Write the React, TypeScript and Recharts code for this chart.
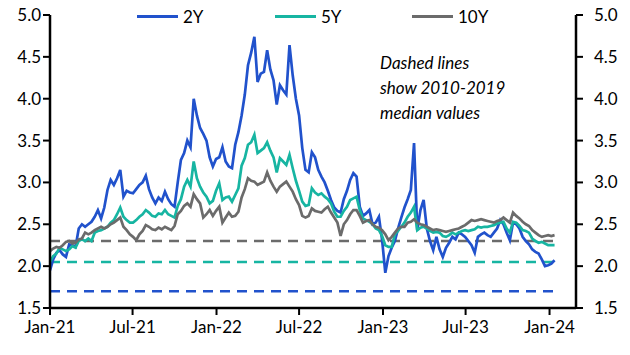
import { LineChart, Line, XAxis, YAxis, ReferenceLine } from 'recharts';

// weekly readings, starting first week of Jan 2021
const Y2 = [
  1.95, 2.08, 2.16, 2.19, 2.14, 2.11, 2.26, 2.25, 2.23, 2.45,
  2.5, 2.47, 2.5, 2.53, 2.59, 2.67, 2.57, 2.7, 2.91, 3.03,
  2.97, 3.05, 3.15, 2.83, 2.9, 2.88, 2.87, 2.92, 2.97, 3.0,
  3.08, 2.92, 2.82, 2.75, 2.82, 2.78, 2.89, 2.8, 2.74, 2.71,
  3.0, 3.27, 3.35, 3.5, 3.42, 4.0, 3.8, 3.65, 3.58, 3.5,
  3.3, 3.19, 3.28, 3.3, 3.42, 3.25, 3.19, 3.17, 3.45, 3.6,
  3.8, 4.05, 4.4, 4.55, 4.74, 4.2, 4.3, 4.32, 4.58, 4.35,
  4.22, 3.93, 4.16, 4.1, 4.05, 4.64, 4.28, 4.0, 3.8, 3.41,
  3.15, 3.12, 3.36, 3.3, 3.15, 3.07, 3.0, 2.9, 2.79, 2.7,
  2.66, 2.64, 2.8, 2.9, 3.03, 3.11, 3.07, 2.71, 2.6, 2.63,
  2.67, 2.5, 2.52, 2.59, 2.31, 1.92, 2.12, 2.22, 2.3, 2.45,
  2.58, 2.7, 2.8, 2.91, 3.47, 2.43, 2.67, 2.79, 2.45, 2.3,
  2.19, 2.35, 2.2, 2.11, 2.22, 2.28, 2.35, 2.32, 2.4, 2.38,
  2.35, 2.3, 2.25, 2.16, 2.35, 2.38, 2.4, 2.37, 2.35, 2.4,
  2.45, 2.55, 2.5, 2.4, 2.31, 2.52, 2.5, 2.45, 2.35, 2.3,
  2.26, 2.2, 2.17, 2.15, 2.08, 2.0, 2.01, 2.03, 2.07,
];

const Y5 = [
  2.05, 2.12, 2.15, 2.22, 2.2, 2.18, 2.2, 2.24, 2.22, 2.3,
  2.32, 2.3, 2.33, 2.3, 2.4, 2.42, 2.43, 2.45, 2.47, 2.52,
  2.55, 2.62, 2.7, 2.59, 2.55, 2.52, 2.52, 2.55, 2.59, 2.62,
  2.67, 2.64, 2.6, 2.59, 2.63, 2.62, 2.67, 2.62, 2.6, 2.58,
  2.72, 2.8, 2.95, 3.03, 2.95, 3.25, 3.05, 2.95, 2.88, 2.83,
  2.75, 2.78, 2.9, 2.99, 2.79, 2.82, 2.83, 2.77, 2.85, 2.93,
  3.2, 3.29, 3.45, 3.48, 3.57, 3.35, 3.38, 3.41, 3.48, 3.38,
  3.3, 3.12, 3.29, 3.25, 3.21, 3.33, 3.17, 3.02, 2.9, 2.77,
  2.72, 2.73, 2.93, 2.88, 2.85, 2.87, 2.83, 2.8, 2.75, 2.65,
  2.59, 2.59, 2.66, 2.71, 2.79, 2.81, 2.83, 2.67, 2.57, 2.55,
  2.53, 2.5, 2.45, 2.43, 2.36, 2.25, 2.23, 2.23, 2.38, 2.42,
  2.47, 2.52, 2.59, 2.64, 2.71, 2.43, 2.46, 2.47, 2.45, 2.42,
  2.4, 2.41, 2.4, 2.36, 2.35, 2.37, 2.4, 2.38, 2.4, 2.42,
  2.43, 2.42, 2.43, 2.44, 2.47, 2.46, 2.47, 2.47, 2.48, 2.49,
  2.51, 2.52, 2.53, 2.45, 2.4, 2.53, 2.52, 2.48, 2.43, 2.42,
  2.4, 2.33, 2.3, 2.28, 2.29, 2.27, 2.25, 2.25, 2.25,
];

const Y10 = [
  2.18, 2.21, 2.23, 2.22, 2.25, 2.29, 2.3, 2.27, 2.28, 2.32,
  2.33, 2.4, 2.38, 2.4, 2.43, 2.45, 2.47, 2.45, 2.47, 2.5,
  2.52, 2.55, 2.58, 2.47, 2.43, 2.38, 2.35, 2.31, 2.38, 2.42,
  2.49, 2.47, 2.44, 2.43, 2.46, 2.44, 2.47, 2.45, 2.43, 2.48,
  2.62, 2.66, 2.72, 2.75, 2.71, 2.86, 2.8, 2.75, 2.58, 2.62,
  2.67, 2.6, 2.66, 2.71, 2.52, 2.58, 2.64, 2.59, 2.6, 2.65,
  2.82, 2.92, 3.05, 3.02, 3.01, 2.97, 2.99, 3.01, 3.12, 3.02,
  2.95, 2.89, 2.95, 2.98, 3.01, 2.95, 2.89, 2.8, 2.73, 2.6,
  2.58, 2.6, 2.69, 2.66, 2.65, 2.64, 2.68, 2.71, 2.64, 2.58,
  2.52, 2.36, 2.5, 2.55, 2.62, 2.67, 2.67, 2.6, 2.52, 2.54,
  2.55, 2.5, 2.47, 2.46, 2.43, 2.38, 2.31, 2.35, 2.4, 2.45,
  2.47, 2.47, 2.52, 2.53, 2.56, 2.52, 2.5, 2.49, 2.47, 2.45,
  2.43, 2.44, 2.43, 2.42, 2.41, 2.42, 2.43, 2.44, 2.45, 2.47,
  2.49, 2.52, 2.55, 2.54, 2.55, 2.56, 2.55, 2.54, 2.53, 2.52,
  2.54, 2.55, 2.58, 2.55, 2.52, 2.64, 2.6, 2.57, 2.53, 2.5,
  2.48, 2.43, 2.4, 2.37, 2.35, 2.36, 2.37, 2.36, 2.37,
];

// 2010-2019 medians
const MED_2Y = 1.7;
const MED_5Y = 2.05;
const MED_10Y = 2.3;

const Y_TICKS = [1.5, 2.0, 2.5, 3.0, 3.5, 4.0, 4.5, 5.0];
const X_TICKS = ['2021-01-01', '2021-07-01', '2022-01-01', '2022-07-01', '2023-01-01', '2023-07-01', '2024-01-01'];
const MONTHS = ['Jan', 'Feb', 'Mar', 'Apr', 'May', 'Jun', 'Jul', 'Aug', 'Sep', 'Oct', 'Nov', 'Dec'];

const BLUE = '#2152cc';
const TEAL = '#17b5a2';
const GREY = '#6b6b6b';
const FONT = 'Lato, sans-serif';

const START = Date.UTC(2021, 0, 1);
const WEEK = 7 * 24 * 3600 * 1000;
const data = Y2.map((v, i) => ({ t: START + i * WEEK, y2: v, y5: Y5[i], y10: Y10[i] }));
const first = data[0].t;
const last = data[data.length - 1].t;

const fmtDate = (t: number) => {
  const d = new Date(t);
  return `${MONTHS[d.getUTCMonth()]}-${String(d.getUTCFullYear()).slice(2)}`;
};

const axisLine = { stroke: '#000', strokeWidth: 2.5 };
const tickLine = { stroke: '#000', strokeWidth: 2 };
const tickStyle = { fill: '#000', fontSize: 17, fontFamily: FONT };

const LegendItem = ({ x, color, label }: { x: number; color: string; label: string }) => (
  <div style={{ position: 'absolute', left: x, top: 6, display: 'flex', alignItems: 'center', fontFamily: FONT, fontSize: 17 }}>
    <div style={{ width: 41, height: 3, background: color, marginRight: 5 }} />
    <span>{label}</span>
  </div>
);

export default function App() {
  return (
    <div style={{ position: 'absolute', left: 0, top: 0, width: 630, height: 355, background: '#fff' }}>
      <LineChart width={630} height={355} data={data} margin={{ top: 15, right: 12, bottom: 12, left: 0 }}>
        <XAxis
          dataKey="t"
          type="number"
          scale="time"
          domain={[START, Date.UTC(2024, 1, 28)]}
          ticks={X_TICKS.map((s) => Date.parse(s))}
          tickFormatter={fmtDate}
          axisLine={axisLine}
          tickLine={tickLine}
          tickSize={7}
          tick={tickStyle}
          height={35}
          tickMargin={6}
        />
        <YAxis
          yAxisId="l"
          domain={[1.5, 5]}
          ticks={Y_TICKS}
          tickFormatter={(v: number) => v.toFixed(1)}
          axisLine={axisLine}
          tickLine={tickLine}
          tickSize={7}
          tick={tickStyle}
          width={50}
          interval={0}
        />
        <YAxis
          yAxisId="r"
          orientation="right"
          domain={[1.5, 5]}
          ticks={Y_TICKS}
          tickFormatter={(v: number) => v.toFixed(1)}
          axisLine={axisLine}
          tickLine={tickLine}
          tickSize={7}
          tickMargin={11}
          tick={tickStyle}
          width={42}
          interval={0}
        />
        <ReferenceLine yAxisId="l" segment={[{ x: first, y: MED_10Y }, { x: last, y: MED_10Y }]} stroke={GREY} strokeWidth={2.5} strokeDasharray="10 7" />
        <ReferenceLine yAxisId="l" segment={[{ x: first, y: MED_5Y }, { x: last, y: MED_5Y }]} stroke={TEAL} strokeWidth={2.5} strokeDasharray="10 7" />
        <ReferenceLine yAxisId="l" segment={[{ x: first, y: MED_2Y }, { x: last, y: MED_2Y }]} stroke={BLUE} strokeWidth={2.5} strokeDasharray="10 7" />
        <Line yAxisId="l" dataKey="y2" stroke={BLUE} strokeWidth={2.7} dot={false} isAnimationActive={false} />
        <Line yAxisId="l" dataKey="y5" stroke={TEAL} strokeWidth={2.7} dot={false} isAnimationActive={false} />
        <Line yAxisId="l" dataKey="y10" stroke={GREY} strokeWidth={2.7} dot={false} isAnimationActive={false} />
        {/* invisible series so the right-hand axis gets drawn */}
        <Line yAxisId="r" dataKey="y10" stroke="none" strokeWidth={0} dot={false} activeDot={false} isAnimationActive={false} />
      </LineChart>
      <LegendItem x={137} color={BLUE} label="2Y" />
      <LegendItem x={275} color={TEAL} label="5Y" />
      <LegendItem x={412} color={GREY} label="10Y" />
      <div style={{ position: 'absolute', left: 380, top: 50, fontFamily: FONT, fontSize: 17, fontStyle: 'italic', lineHeight: '25px', color: '#000' }}>
        Dashed lines<br />show 2010-2019<br />median values
      </div>
    </div>
  );
}
